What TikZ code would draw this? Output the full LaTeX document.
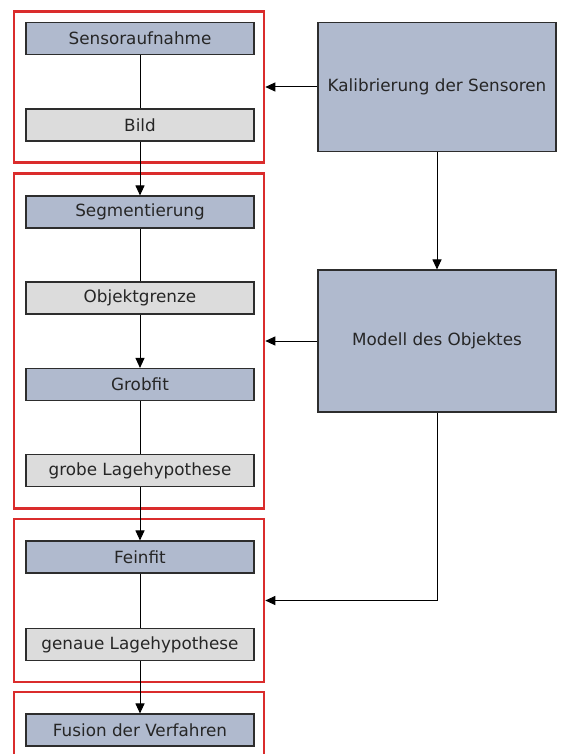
\documentclass[tikz,border=0pt]{standalone}
\usepackage{fontspec}
\setmainfont{DejaVu Sans}
\usetikzlibrary{arrows.meta, positioning}

\definecolor{boxblue}{RGB}{176,186,206}
\definecolor{boxgrey}{RGB}{220,220,220}
\definecolor{framered}{RGB}{218,44,44}
\definecolor{edgegrey}{RGB}{45,45,45}

\begin{document}
\begin{tikzpicture}[x=1pt, y=-1pt,
    every node/.style={font=\fontsize{16.8}{20}\selectfont, text=black!85},
    procbox/.style={draw=edgegrey, line width=1.1pt, fill=boxblue, minimum width=228pt, minimum height=32pt, inner sep=0pt},
    databox/.style={procbox, fill=boxgrey},
    sidebox/.style={draw=edgegrey, line width=1.1pt, fill=boxblue, minimum width=238pt, inner sep=0pt},
    groupframe/.style={draw=framered, line width=2.6pt, minimum width=250pt, inner sep=0pt},
    flow/.style={draw=black, line width=1pt},
    flowarrow/.style={flow, -{Triangle[length=10pt, width=9pt]}}]
    \useasboundingbox (0,0) rectangle (564,754);
    \clip (0,0) rectangle (564,754);

    % Red group frames
    \node[groupframe, minimum height=151pt] (frameA) at (139,87) {};
    \node[groupframe, minimum height=335pt] (frameB) at (139,341) {};
    \node[groupframe, minimum height=163pt] (frameC) at (139,600.5) {};
    \node[groupframe, minimum height=88pt] (frameD) at (139,736) {};

    % Processing chain
    \node[procbox] (sensor) at (140,38.5) {Sensoraufnahme};
    \node[databox] (bild) at (140,125) {Bild};
    \node[procbox] (segment) at (140,212) {Segmentierung};
    \node[databox] (grenze) at (140,298) {Objektgrenze};
    \node[procbox] (grobfit) at (140,384.5) {Grobfit};
    \node[databox] (grobhyp) at (140,470.5) {grobe Lagehypothese};
    \node[procbox] (feinfit) at (140,557) {Feinfit};
    \node[databox] (genauhyp) at (140,644.5) {genaue Lagehypothese};
    \node[procbox] (fusion) at (140,730) {Fusion der Verfahren};

    % Side inputs
    \node[sidebox, minimum height=129pt] (kalib) at (437,87) {Kalibrierung der Sensoren};
    \node[sidebox, minimum height=142pt] (modell) at (437,341) {Modell des Objektes};

    % Connections
    \draw[flow] (sensor) -- (bild);
    \draw[flowarrow] (bild) -- (segment);
    \draw[flow] (segment) -- (grenze);
    \draw[flowarrow] (grenze) -- (grobfit);
    \draw[flow] (grobfit) -- (grobhyp);
    \draw[flowarrow] (grobhyp) -- (feinfit);
    \draw[flow] (feinfit) -- (genauhyp);
    \draw[flowarrow] (genauhyp) -- (fusion);

    \draw[flowarrow] (kalib) -- (frameA);
    \draw[flowarrow] (kalib) -- (modell);
    \draw[flowarrow] (modell) -- (frameB);
    \draw[flowarrow] (modell) |- (frameC);
\end{tikzpicture}
\end{document}
